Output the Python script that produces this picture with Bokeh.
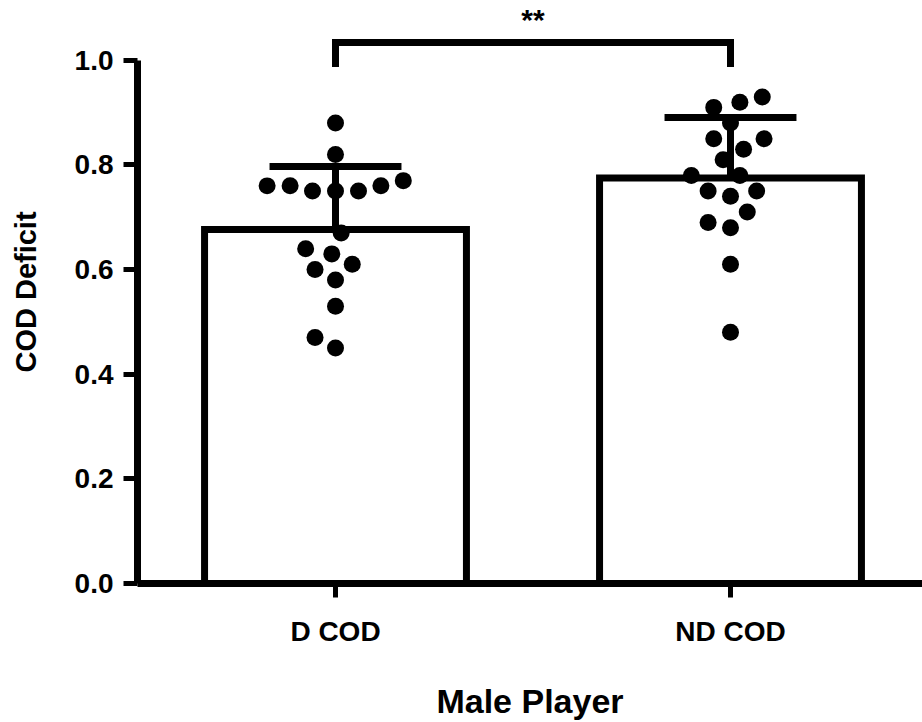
import numpy as np
from bokeh.plotting import figure
from bokeh.models import Range1d, FixedTicker, PrintfTickFormatter
from bokeh.core.properties import value
from bokeh.embed import file_html
from bokeh.resources import INLINE

# Change-of-direction deficit per player, for each condition
groups = ["D COD", "ND COD"]
d_cod = [0.88, 0.82, 0.77, 0.76, 0.76, 0.76, 0.75, 0.75, 0.75,
         0.67, 0.64, 0.63, 0.61, 0.60, 0.58, 0.53, 0.47, 0.45]
nd_cod = [0.93, 0.92, 0.91, 0.88, 0.85, 0.85, 0.83, 0.81, 0.78,
          0.78, 0.75, 0.75, 0.74, 0.71, 0.69, 0.68, 0.61, 0.48]
y_ticks = [0.0, 0.2, 0.4, 0.6, 0.8, 1.0]
significance = "**"

FONT = "Liberation Sans"
W, H = 922, 722
LEFT, BOTTOM = 137, 137
X0, X1 = 0.49873, 2.48608
Y0, Y1 = 0.0, (H - BOTTOM) / 525.0

series = [np.array(d_cod), np.array(nd_cod)]
xpos = np.arange(1, len(groups) + 1, dtype=float)
means = np.array([s.mean() for s in series])
sds = np.array([s.std(ddof=1) for s in series])

px_x = (W - LEFT) / (X1 - X0)
px_y = (H - BOTTOM) / (Y1 - Y0)


def swarm_offsets(vals, spacing):
    """Greedy beeswarm: place points bottom-up at the x offset nearest
    the centre that keeps every pair at least `spacing` pixels apart."""
    order = np.argsort(vals, kind="stable")
    placed = []
    out = np.zeros(len(vals))
    for i in order:
        y = vals[i] * px_y
        cands = [0.0]
        for (qx, qy) in placed:
            dy = abs(qy - y)
            if dy < spacing:
                dx = np.sqrt(spacing ** 2 - dy ** 2)
                cands += [qx + dx, qx - dx]
        cands.sort(key=lambda c: (round(abs(c), 6), c))
        for c in cands:
            if all((c - qx) ** 2 + (y - qy) ** 2 >= spacing ** 2 - 1e-6
                   for (qx, qy) in placed):
                break
        placed.append((c, y))
        out[i] = c / px_x
    return out


p = figure(width=W, height=H, output_backend="svg", toolbar_location=None,
           x_range=Range1d(X0, X1), y_range=Range1d(Y0, Y1),
           min_border_left=LEFT, min_border_bottom=BOTTOM,
           min_border_top=0, min_border_right=0)
p.outline_line_color = None
p.xgrid.visible = False
p.ygrid.visible = False
p.background_fill_color = "white"
p.border_fill_color = "white"

# bars of the group means
p.vbar(x=xpos, top=means, bottom=0, width=0.663, fill_color="white",
       line_color="black", line_width=7, line_join="miter")

# individual players
for xc, s in zip(xpos, series):
    dx = swarm_offsets(s, 23.0)
    p.scatter(x=xc + dx, y=s, size=17, marker="circle",
              fill_color="black", line_color=None)

# mean + SD error bars
cap = 0.167
p.segment(x0=xpos, y0=means, x1=xpos, y1=means + sds,
          line_color="black", line_width=7, line_cap="butt")
p.segment(x0=xpos - cap, y0=means + sds, x1=xpos + cap, y1=means + sds,
          line_color="black", line_width=7, line_cap="butt")

# significance bracket between the two groups
b_top, b_low = 1.034, 0.987
p.line(x=[xpos[0], xpos[0], xpos[1], xpos[1]],
       y=[b_low, b_top, b_top, b_low],
       line_color="black", line_width=7, line_join="miter", line_cap="butt")
p.text(x=[xpos.mean()], y=[1.078], text=[significance],
       text_font=value(FONT), text_font_style="bold", text_font_size="30px",
       text_align="center", text_baseline="middle", text_color="black")

# axes
for ax in (p.xaxis[0], p.yaxis[0]):
    ax.axis_line_width = 7
    ax.axis_line_color = "black"
    ax.major_tick_line_width = 5
    ax.major_tick_line_color = "black"
    ax.major_tick_in = 0
    ax.major_tick_out = 14
    ax.minor_tick_line_color = None
    ax.major_label_text_font = FONT
    ax.major_label_text_font_style = "bold"
    ax.major_label_text_color = "black"
    ax.axis_label_text_font = FONT
    ax.axis_label_text_font_style = "bold"
    ax.axis_label_text_color = "black"

p.yaxis.ticker = FixedTicker(ticks=y_ticks)
p.yaxis.formatter = PrintfTickFormatter(format="%.1f")
p.yaxis.bounds = (0, 1.0)
p.yaxis.major_label_text_font_size = "28px"
p.yaxis.major_label_standoff = 10
p.yaxis.axis_label = "COD Deficit"
p.yaxis.axis_label_text_font_size = "29px"
p.yaxis.axis_label_standoff = 30

p.xaxis.ticker = FixedTicker(ticks=list(xpos))
p.xaxis.major_label_overrides = {float(x): g for x, g in zip(xpos, groups)}
p.xaxis.major_label_text_font_size = "28px"
p.xaxis.major_label_standoff = 18
p.xaxis.axis_label = "Male Player"
p.xaxis.axis_label_text_font_size = "34px"
p.xaxis.axis_label_standoff = 32

open("out.html", "w").write(file_html(p, INLINE))
